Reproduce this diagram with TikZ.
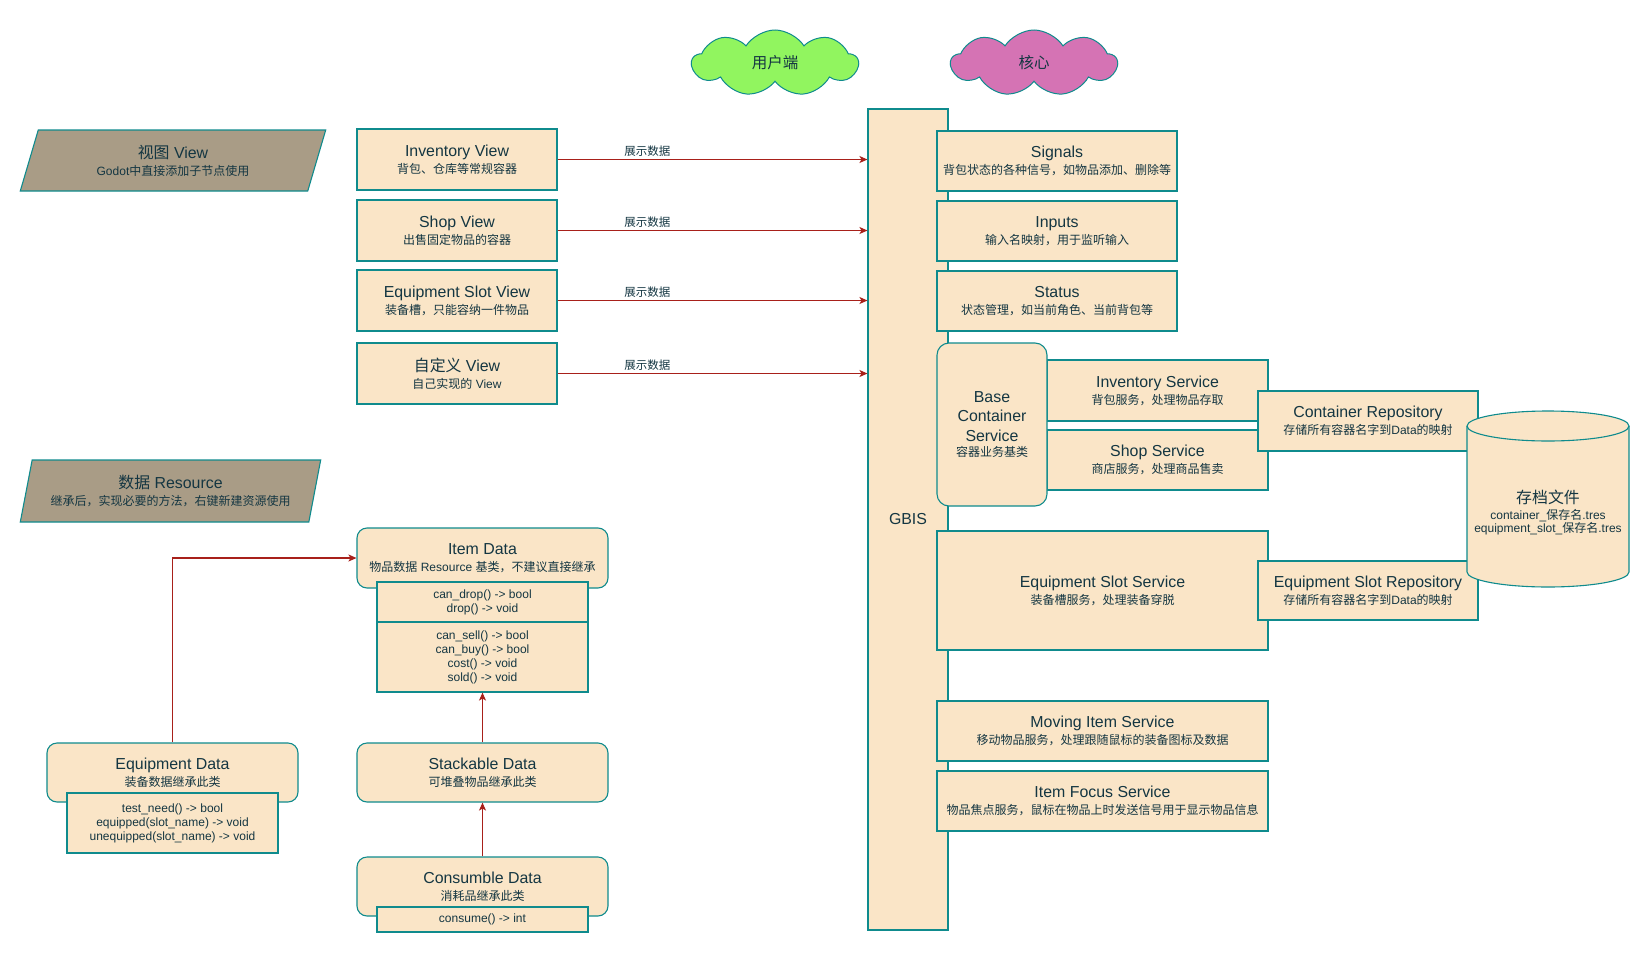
\documentclass[tikz,border=0pt]{standalone}
\usepackage{fontspec}
\setmainfont{Liberation Sans}
\newfontfamily\cjk{Noto Sans CJK SC}
\usetikzlibrary{shapes.geometric,shapes.symbols,arrows.meta}
\definecolor{boxfill}{HTML}{FAE5C7}
\definecolor{boxline}{HTML}{0F8B8D}
\definecolor{txt}{HTML}{143642}
\definecolor{edgec}{HTML}{A8201A}
\definecolor{tanfill}{HTML}{A99C86}
\definecolor{lgreen}{RGB}{145,245,95}
\definecolor{pinkc}{RGB}{213,115,180}
\newcommand\zh[1]{{\cjk #1}}
\newcommand\subt[1]{{\fontsize{12}{13}\selectfont #1}}
\begin{document}
\begin{tikzpicture}[x=1pt,y=-1pt,
  base/.style={draw=boxline, fill=boxfill, line width=1.1pt, text=txt, align=center, inner sep=0pt, font=\fontsize{15.9}{17}\selectfont},
  box/.style={base, rectangle},
  rbox/.style={base, rounded corners=10pt},
  meth/.style={base, font=\fontsize{12}{14}\selectfont},
  arr/.style={draw=edgec, line width=1.1pt, -{Stealth[length=8pt,width=7pt,inset=2pt]}},
  lbl/.style={text=txt, font=\fontsize{11.5}{13}\selectfont\cjk, inner sep=0pt},
  para/.style={trapezium, trapezium left angle=72, trapezium right angle=108, trapezium stretches=true, draw=boxline, fill=tanfill, line width=1.1pt, text=txt, align=center, inner sep=0pt, font=\fontsize{15.9}{17}\selectfont},
  cloudy/.style={cloud, cloud puffs=9, cloud puff arc=115, aspect=2.5, draw=boxline, line width=1pt, text=txt, inner sep=0pt, minimum width=166pt, minimum height=66pt, font=\fontsize{15.5}{17}\selectfont\cjk},
]
\useasboundingbox (0,0) rectangle (1649,953);

% core bar
\node[box, minimum width=80pt, minimum height=821pt] (gbis) at (908,519.5) {GBIS};

% views
\node[box, minimum width=200pt, minimum height=61pt] (inv) at (457,159.5) {Inventory View\\\subt{\zh{背包、仓库等常规容器}}};
\node[box, minimum width=200pt, minimum height=61pt] (shop) at (457,230.5) {Shop View\\\subt{\zh{出售固定物品的容器}}};
\node[box, minimum width=200pt, minimum height=61pt] (esv) at (457,300.5) {Equipment Slot View\\\subt{\zh{装备槽，只能容纳一件物品}}};
\node[box, minimum width=200pt, minimum height=61pt] (cust) at (457,373.5) {\zh{自定义} View\\\subt{\zh{自己实现的} View}};

\draw[arr] (inv.east) -- (inv.east -| gbis.west) node[lbl, pos=0.29, yshift=8pt] (l1) {展示数据};
\draw[arr] (shop.east) -- (shop.east -| gbis.west) node[lbl, pos=0.29, yshift=8pt] (l2) {展示数据};
\draw[arr] (esv.east) -- (esv.east -| gbis.west) node[lbl, pos=0.29, yshift=8pt] (l3) {展示数据};
\draw[arr] (cust.east) -- (cust.east -| gbis.west) node[lbl, pos=0.29, yshift=8pt] (l4) {展示数据};

% core services
\node[box, minimum width=240pt, minimum height=60pt] (sig) at (1057,161) {Signals\\\subt{\zh{背包状态的各种信号，如物品添加、删除等}}};
\node[box, minimum width=240pt, minimum height=60pt] (inp) at (1057,231) {Inputs\\\subt{\zh{输入名映射，用于监听输入}}};
\node[box, minimum width=240pt, minimum height=60pt] (sta) at (1057,301) {Status\\\subt{\zh{状态管理，如当前角色、当前背包等}}};

\node[box, minimum width=221pt, minimum height=61pt] (invs) at (1157.5,390.5) {Inventory Service\\\subt{\zh{背包服务，处理物品存取}}};
\node[box, minimum width=221pt, minimum height=60pt] (shps) at (1157.5,460) {Shop Service\\\subt{\zh{商店服务，处理商品售卖}}};
\node[rbox, rounded corners=12pt, minimum width=110pt, minimum height=163pt, font=\fontsize{15.9}{19.5}\selectfont] (bcs) at (992,424.5) {Base\\Container\\Service\\[-4pt]\subt{\zh{容器业务基类}}};
\node[box, minimum width=220pt, minimum height=60pt] (crep) at (1368,421) {Container Repository\\\subt{\zh{存储所有容器名字到}Data\zh{的映射}}};

\node[box, minimum width=331pt, minimum height=119pt] (ess) at (1102.5,590.5) {Equipment Slot Service\\\subt{\zh{装备槽服务，处理装备穿脱}}};
\node[box, minimum width=220pt, minimum height=59pt] (esr) at (1368,590.5) {Equipment Slot Repository\\\subt{\zh{存储所有容器名字到}Data\zh{的映射}}};

\node[box, minimum width=331pt, minimum height=60pt] (mov) at (1102.5,731) {Moving Item Service\\\subt{\zh{移动物品服务，处理跟随鼠标的装备图标及数据}}};
\node[box, minimum width=331pt, minimum height=60pt] (foc) at (1102.5,801) {Item Focus Service\\\subt{\zh{物品焦点服务，鼠标在物品上时发送信号用于显示物品信息}}};

% storage cylinder
\path[fill=boxfill] (1467,426) -- (1467,572) arc[start angle=180,end angle=360,x radius=81pt,y radius=15pt] -- (1629,426) arc[start angle=0,end angle=180,x radius=81pt,y radius=15pt] -- cycle;
\draw[boxline, line width=1.1pt] (1467,426) -- (1467,572) arc[start angle=180,end angle=360,x radius=81pt,y radius=15pt] -- (1629,426);
\draw[boxline, line width=1.1pt] (1548,426) ellipse [x radius=81pt, y radius=15pt];
\node[text=txt, align=center, inner sep=0pt, font=\fontsize{12}{13.5}\selectfont] (arch) at (1548,513) {{\fontsize{15.9}{17}\selectfont\zh{存档文件}}\\[2pt]container\_\zh{保存名}.tres\\equipment\_slot\_\zh{保存名}.tres};

% clouds
\node[cloudy, fill=lgreen] (cl1) at (775,63) {用户端};
\node[cloudy, fill=pinkc] (cl2) at (1034,63) {核心};

% section labels
\node[para, minimum width=306pt, minimum height=61pt] (pv) at (173,160.5) {\zh{视图} View\\\subt{Godot\zh{中直接添加子节点使用}}};
\node[para, minimum width=301pt, minimum height=62pt] (pr) at (170.5,491) {\zh{数据} Resource\\\subt{\zh{继承后，实现必要的方法，右键新建资源使用}}};

% data classes
\node[rbox, minimum width=251pt, minimum height=60pt] (itd) at (482.5,558) {Item Data\\\subt{\zh{物品数据} Resource \zh{基类，不建议直接继承}}};
\node[meth, minimum width=211pt, minimum height=40pt] (itm1) at (482.5,602) {can\_drop() -> bool\\drop() -> void};
\node[meth, minimum width=211pt, minimum height=70pt] (itm2) at (482.5,657) {can\_sell() -> bool\\can\_buy() -> bool\\cost() -> void\\sold() -> void};

\node[rbox, minimum width=251pt, minimum height=59pt] (stk) at (482.5,772.5) {Stackable Data\\\subt{\zh{可堆叠物品继承此类}}};
\node[rbox, minimum width=251pt, minimum height=59pt] (con) at (482.5,886.5) {Consumble Data\\\subt{\zh{消耗品继承此类}}};
\node[meth, minimum width=211pt, minimum height=25pt] (conm) at (482.5,919.5) {consume() -> int};

\node[rbox, minimum width=251pt, minimum height=59pt] (eqd) at (172.5,772.5) {Equipment Data\\\subt{\zh{装备数据继承此类}}};
\node[meth, minimum width=211pt, minimum height=60pt] (eqm) at (172.5,823) {test\_need() -> bool\\equipped(slot\_name) -> void\\unequipped(slot\_name) -> void};

\draw[arr] (stk.north) -- (itm2.south);
\draw[arr] (con.north) -- (stk.south);
\draw[arr] (eqd.north) |- (itd.west);
\end{tikzpicture}
\end{document}
